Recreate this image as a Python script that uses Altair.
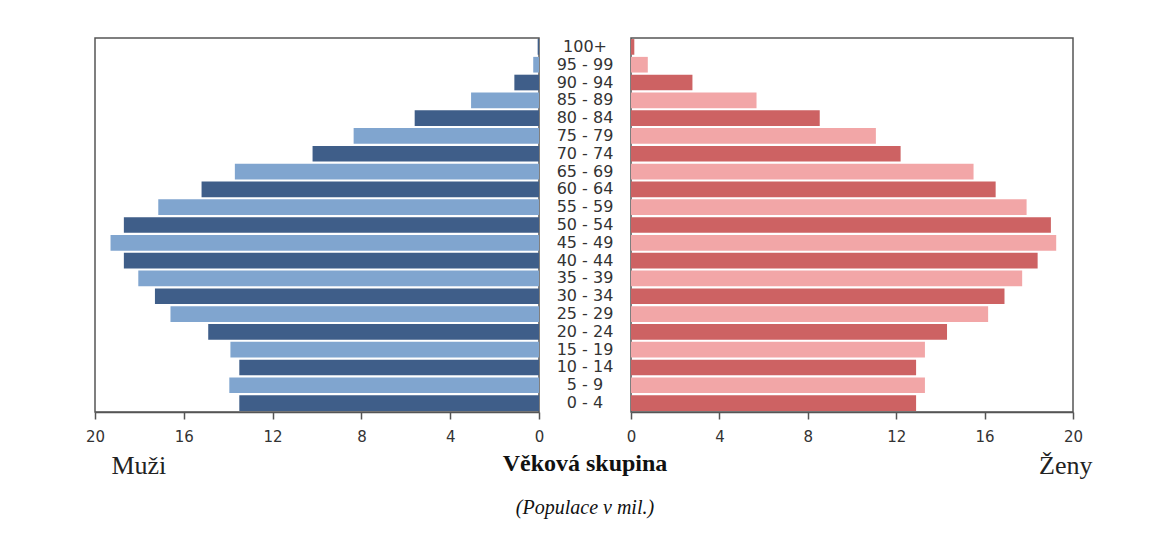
import altair as alt
import pandas as pd

ages = ["0 - 4", "5 - 9", "10 - 14", "15 - 19", "20 - 24", "25 - 29", "30 - 34",
        "35 - 39", "40 - 44", "45 - 49", "50 - 54", "55 - 59", "60 - 64", "65 - 69",
        "70 - 74", "75 - 79", "80 - 84", "85 - 89", "90 - 94", "95 - 99", "100+"]
men = [13.5, 13.95, 13.5, 13.9, 14.9, 16.6, 17.3, 18.05, 18.7, 19.3, 18.7,
       17.15, 15.2, 13.7, 10.2, 8.35, 5.6, 3.06, 1.11, 0.26, 0.06]
women = [12.9, 13.3, 12.9, 13.3, 14.3, 16.16, 16.9, 17.7, 18.4, 19.24, 19.0,
         17.9, 16.5, 15.5, 12.2, 11.08, 8.54, 5.68, 2.78, 0.76, 0.15]
shade = ["dark" if i % 2 == 0 else "light" for i in range(len(ages))]
ticks = [0, 4, 8, 12, 16, 20]

df = pd.DataFrame({"age": ages, "men": men, "women": women, "shade": shade})
order = list(reversed(ages))

H = 374
yenc = alt.Y("age:N", sort=order, axis=None,
             scale=alt.Scale(paddingInner=0.12, paddingOuter=0.06))

axis_common = dict(values=ticks, grid=False, labelFont="DejaVu Sans", labelFontSize=15,
                   labelColor="#333333", tickColor="#555555", tickSize=7, tickWidth=1.5,
                   domainColor="#555555", domainWidth=1.5, labelPadding=10,
                   labelFlush=False, title=None)

left = alt.Chart(df).mark_bar().encode(
    x=alt.X("men:Q", scale=alt.Scale(domain=[0, 20], reverse=True, nice=False),
            axis=alt.Axis(**axis_common)),
    y=yenc,
    color=alt.Color("shade:N", scale=alt.Scale(domain=["dark", "light"],
                                               range=["#3f5e89", "#80a5cf"]), legend=None),
).properties(
    width=444, height=H,
    title=alt.TitleParams("Muži", orient="bottom", anchor="start", dx=26, offset=9,
                          font="Liberation Serif", fontSize=26, fontWeight="normal",
                          color="#222222"),
)

mid = alt.Chart(df).mark_text(font="DejaVu Sans", fontSize=16, color="#333333").encode(
    y=yenc,
    text="age:N",
).properties(
    width=92, height=H,
    view=alt.ViewBackground(strokeWidth=0),
    title=alt.TitleParams("Věková skupina", orient="bottom", anchor="middle", offset=40,
                          font="Liberation Serif", fontSize=24, fontWeight="bold",
                          color="#111111",
                          subtitle="(Populace v mil.)", subtitleFont="Liberation Serif",
                          subtitleFontSize=20, subtitleFontStyle="italic",
                          subtitleColor="#111111", subtitlePadding=22),
)

right = alt.Chart(df).mark_bar().encode(
    x=alt.X("women:Q", scale=alt.Scale(domain=[0, 20], nice=False),
            axis=alt.Axis(**axis_common)),
    y=yenc,
    color=alt.Color("shade:N", scale=alt.Scale(domain=["dark", "light"],
                                               range=["#cd6263", "#f2a6a7"]), legend=None),
).properties(
    width=442, height=H,
    title=alt.TitleParams("Ženy", orient="bottom", anchor="end", dx=10, offset=9,
                          font="Liberation Serif", fontSize=26, fontWeight="normal",
                          color="#222222"),
)

chart = alt.hconcat(left, mid, right, spacing=0, bounds="flush").resolve_scale(
    color="independent"
).properties(
    padding={"left": 76, "top": 29, "right": 5, "bottom": 5},
    background="white",
).configure_view(
    stroke="#555555", strokeWidth=1.5
)

chart.save("out.html", embed_options={"renderer": "svg", "actions": False})
